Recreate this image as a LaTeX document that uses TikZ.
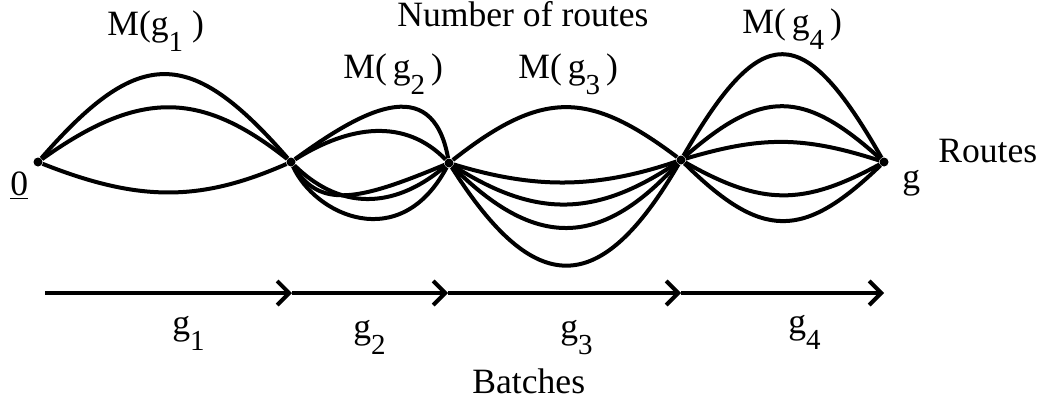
\documentclass[tikz,border=0pt]{standalone}
\usepackage{fontspec}
\setmainfont{Liberation Serif}
\usetikzlibrary{arrows.meta}
\newcommand{\lowidx}[1]{\raisebox{-8pt}{\fontsize{14.5}{14.5}\selectfont #1}}

\begin{document}
\begin{tikzpicture}[x=0.5pt, y=-0.5pt,
    >={Straight Barb[length=6pt,width=12pt]},
    dot/.style={circle, fill, inner sep=0pt, minimum size=4.5pt},
    route/.style={line width=2pt},
    batch/.style={->, line width=2pt},
    lbl/.style={anchor=base west, inner sep=0pt, font=\fontsize{17.8}{20}\selectfont}]
    \useasboundingbox (0,0) rectangle (1046,407);

    % junctions of the routes
    \node[dot] (n0) at (38,162) {};
    \node[dot] (n1) at (291,162) {};
    \node[dot] (n2) at (449,163) {};
    \node[dot] (n3) at (681,160) {};
    \node[dot] (n4) at (884,162) {};

    % routes of batch g1
    \draw[route] (n0) .. controls (139,46) and (190,46) .. (n1);
    \draw[route] (n0) .. controls (139,90) and (200,90) .. (n1);
    \draw[route] (n0) .. controls (139,202) and (200,202) .. (n1);

    % routes of batch g2
    \draw[route] (n1) .. controls (360,112) and (432,70) .. (n2);
    \draw[route] (n1) .. controls (350,125) and (405,118) .. (n2);
    \draw[route] (n1) .. controls (320,210) and (360,200) .. (n2);
    \draw[route] (n1) .. controls (345,215) and (400,205) .. (n2);
    \draw[route] (n1) .. controls (315,215) and (400,255) .. (n2);

    % routes of batch g3
    \draw[route] (n2) .. controls (542,90) and (588,90) .. (n3);
    \draw[route] (n2) .. controls (535,189) and (595,189) .. (n3);
    \draw[route] (n2) .. controls (535,218) and (595,218) .. (n3);
    \draw[route] (n2) .. controls (535,249) and (600,249) .. (n3);
    \draw[route] (n2) .. controls (535,299) and (600,299) .. (n3);

    % routes of batch g4
    \draw[route] (n3) .. controls (762,20) and (803,20) .. (n4);
    \draw[route] (n3) .. controls (762,89) and (803,89) .. (n4);
    \draw[route] (n3) .. controls (762,136) and (803,136) .. (n4);
    \draw[route] (n3) .. controls (762,206) and (803,206) .. (n4);
    \draw[route] (n3) .. controls (762,240) and (803,240) .. (n4);

    % labels of the routes
    \node[lbl] (zero) at (10,195) {\underline{0}};
    \node[lbl] (end) at (902,188) {g};
    \node[lbl] (routes) at (938,162) {Routes};
    \node[lbl] (count) at (397,26) {Number of routes};
    \node[lbl] (m1) at (107,35) {M(g\lowidx{1}\ )};
    \node[lbl] (m2) at (343,78) {M(\,g\lowidx{2}\,)};
    \node[lbl] (m3) at (518,78) {M(\,g\lowidx{3}\,)};
    \node[lbl] (m4) at (742,33) {M(\,g\lowidx{4}\,)};

    % batch axis
    \coordinate (a0) at (45,293);
    \coordinate (a1) at (292,293);
    \coordinate (a2) at (448,293);
    \coordinate (a3) at (681,293);
    \coordinate (a4) at (884,293);
    \draw[batch] (a0) -- (a1);
    \draw[batch] (a1) -- (a2);
    \draw[batch] (a2) -- (a3);
    \draw[batch] (a3) -- (a4);

    \node[lbl] (b1) at (172,334) {g\lowidx{1}};
    \node[lbl] (b2) at (353,338) {g\lowidx{2}};
    \node[lbl] (b3) at (560,338) {g\lowidx{3}};
    \node[lbl] (b4) at (788,333) {g\lowidx{4}};
    \node[lbl] (batches) at (472,393) {Batches};
\end{tikzpicture}
\end{document}
